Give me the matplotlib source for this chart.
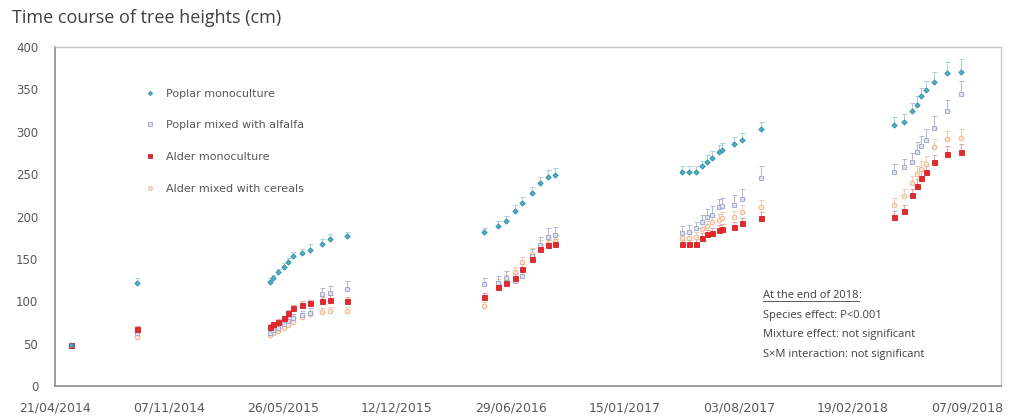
import numpy as np
import pandas as pd
import matplotlib
import matplotlib.pyplot as plt
import matplotlib.dates as mdates
from matplotlib.lines import Line2D

matplotlib.use("Agg")

# measurement dates
dates = pd.to_datetime([
    "2014-05-19", "2014-09-12",
    "2015-05-04", "2015-05-09", "2015-05-18", "2015-05-27", "2015-06-04", "2015-06-13",
    "2015-06-29", "2015-07-13", "2015-08-03", "2015-08-17", "2015-09-16",
    "2016-05-12", "2016-06-06", "2016-06-20", "2016-07-06", "2016-07-18", "2016-08-05",
    "2016-08-19", "2016-09-02", "2016-09-14",
    "2017-04-25", "2017-05-08", "2017-05-20", "2017-05-30", "2017-06-08", "2017-06-17",
    "2017-06-29", "2017-07-05", "2017-07-26", "2017-08-09", "2017-09-11",
    "2018-05-03", "2018-05-20", "2018-06-03", "2018-06-12", "2018-06-19", "2018-06-28",
    "2018-07-12", "2018-08-04", "2018-08-27",
])

# heights (cm)
poplar_mono = [48, 121,
               123, 127, 134, 140, 146, 153, 157, 161, 167, 173, 177,
               182, 189, 195, 207, 216, 228, 239, 247, 249,
               252, 252, 253, 259, 264, 269, 276, 279, 286, 290, 303,
               308, 312, 324, 332, 342, 349, 359, 369, 371]
poplar_mix = [48, 62,
              63, 66, 69, 73, 77, 80, 84, 86, 108, 110, 115,
              120, 122, 128, 124, 130, 153, 166, 176, 178,
              181, 182, 186, 193, 200, 202, 211, 212, 214, 221, 245,
              252, 258, 264, 276, 283, 290, 305, 324, 345]
alder_mono = [48, 67,
              70, 73, 76, 80, 86, 92, 96, 98, 100, 102, 100,
              105, 117, 122, 128, 138, 150, 162, 166, 167,
              167, 167, 168, 175, 179, 181, 184, 185, 188, 192, 198,
              199, 207, 225, 236, 246, 252, 264, 274, 276]
alder_mix = [48, 58,
             60, 62, 65, 68, 72, 76, 82, 85, 87, 88, 88,
             94, 120, 125, 134, 146, 156, 165, 168, 171,
             175, 175, 176, 185, 189, 193, 196, 198, 200, 205, 211,
             214, 224, 240, 250, 256, 262, 282, 291, 293]

# standard errors (upper bars only)
poplar_mono_err = [3, 6, 4, 4, 4, 5, 5, 5, 5, 6, 6, 6, 5,
                   5, 6, 6, 6, 7, 7, 8, 8, 8,
                   7, 7, 7, 7, 8, 8, 8, 8, 8, 8, 9,
                   9, 9, 10, 10, 10, 11, 11, 13, 15]
poplar_mix_err = [3, 5, 4, 4, 4, 4, 5, 5, 5, 6, 8, 8, 9,
                  8, 8, 8, 8, 8, 9, 10, 10, 10,
                  8, 8, 8, 9, 9, 10, 10, 10, 11, 12, 14,
                  10, 10, 11, 12, 12, 13, 13, 14, 15]
alder_mono_err = [3, 4, 3, 3, 3, 3, 4, 4, 4, 4, 5, 5, 5,
                  5, 5, 5, 5, 6, 6, 6, 6, 6,
                  5, 5, 5, 5, 5, 6, 6, 6, 6, 6, 7,
                  7, 7, 7, 8, 8, 8, 8, 9, 9]
alder_mix_err = [3, 4, 3, 3, 3, 3, 4, 4, 4, 4, 5, 5, 5,
                 5, 6, 6, 6, 6, 7, 7, 7, 7,
                 6, 6, 6, 6, 6, 7, 7, 7, 7, 8, 9,
                 8, 8, 8, 9, 9, 9, 10, 10, 10]

series_labels = ["Poplar monoculture", "Poplar mixed with alfalfa",
                 "Alder monoculture", "Alder mixed with cereals"]

notes = ["Species effect: P<0.001",
         "Mixture effect: not significant",
         "S\u00d7M interaction: not significant"]

fig = plt.figure(figsize=(10.11, 4.16), dpi=100)
ax = fig.add_axes([55 / 1011, 1 - 386 / 416, 946 / 1011, 339 / 416])

styles = [
    dict(marker="D", ms=2.7, mfc="#4bacc6", mec="#3a8fa8", ecolor="#a8cfdc"),
    dict(marker="s", ms=3.2, mfc="#dfe1f0", mec="#9aa2cc", ecolor="#b3b7d6"),
    dict(marker="s", ms=3.6, mfc="#e8262c", mec="#d02228", ecolor="#eba3a3"),
    dict(marker="o", ms=3.4, mfc="#fce6d6", mec="#f0ae82", ecolor="#f2cbb0"),
]
values = [poplar_mono, poplar_mix, alder_mono, alder_mix]
errors = [poplar_mono_err, poplar_mix_err, alder_mono_err, alder_mix_err]
order = [3, 1, 2, 0]

handles = {}
for i in order:
    st = styles[i]
    err = np.vstack([np.zeros(len(errors[i])), errors[i]])
    ax.errorbar(dates, values[i], yerr=err, fmt="none", ecolor=st["ecolor"],
                elinewidth=0.7, capsize=1.8, capthick=0.7, zorder=2)
    h, = ax.plot(dates, values[i], linestyle="none", marker=st["marker"],
                 ms=st["ms"], mfc=st["mfc"], mec=st["mec"], mew=0.6, zorder=3)
    handles[i] = h

# axes
start = pd.Timestamp("2014-04-21")
ax.set_xlim(start, start + pd.Timedelta(days=1660))
ax.set_ylim(0, 400)
ax.set_yticks(range(0, 401, 50))
ax.set_xticks(pd.date_range(start, periods=9, freq="200D"))
ax.xaxis.set_major_formatter(mdates.DateFormatter("%d/%m/%Y"))
ax.tick_params(axis="both", length=0, colors="#595959")
ax.tick_params(axis="x", labelsize=9, pad=11)
ax.tick_params(axis="y", labelsize=8.5, pad=12)
for s in ["left", "bottom"]:
    ax.spines[s].set_color("#8c8c8c")
    ax.spines[s].set_linewidth(1.2)
for s in ["top", "right"]:
    ax.spines[s].set_color("#c8c8c8")
    ax.spines[s].set_linewidth(1.0)

# legend
leg = ax.legend([handles[i] for i in range(4)], series_labels,
                loc="upper left", bbox_to_anchor=(139 / 1011, 1 - 83 / 416),
                bbox_transform=fig.transFigure, frameon=False, fontsize=8,
                labelspacing=1.95, handlelength=1.0, handletextpad=0.9,
                markerscale=0.8, borderpad=0)
for t in leg.get_texts():
    t.set_color("#595959")

# title
fig.text(12 / 1011, 1 - 18 / 416, "Time course of tree heights (cm)",
         fontsize=13, color="#404040", family="Open Sans", va="center")

# statistics box
head = fig.text(763 / 1011, 1 - 296 / 416, "At the end of 2018", fontsize=8,
                color="#404040", family="Open Sans", va="center")
for k, line in enumerate(notes):
    fig.text(763 / 1011, 1 - (315.5 + k * 19.5) / 416, line, fontsize=8,
             color="#404040", family="Open Sans", va="center")

fig.canvas.draw()
bb = head.get_window_extent().transformed(fig.transFigure.inverted())
fig.text(bb.x1, 1 - 296 / 416, ":", fontsize=8, color="#404040",
         family="Open Sans", va="center")
fig.add_artist(Line2D([bb.x0, bb.x1], [bb.y0 + 0.002, bb.y0 + 0.002],
                      transform=fig.transFigure, color="#404040", lw=0.6))

fig.savefig("out.png", dpi=100)
